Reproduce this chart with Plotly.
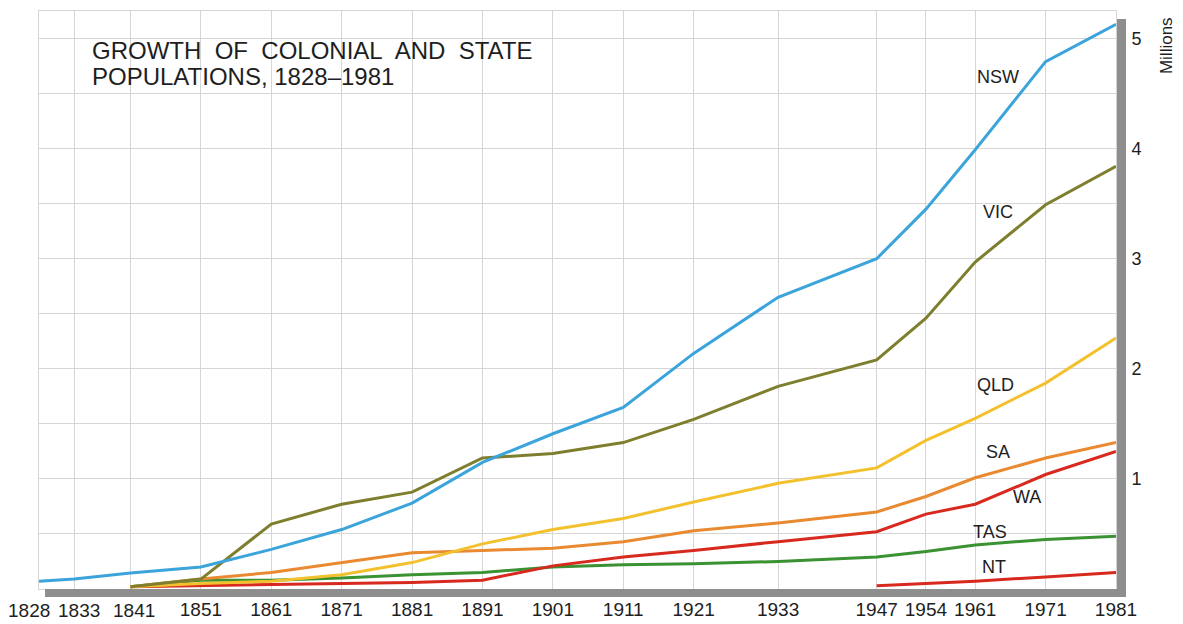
import plotly.graph_objects as go

# ---- data (millions) ----
tick_years = [1828, 1833, 1841, 1851, 1861, 1871, 1881, 1891, 1901, 1911,
              1921, 1933, 1947, 1954, 1961, 1971, 1981]
tick_labels = [str(y) for y in tick_years]

nsw_years = [1828, 1833, 1841, 1851, 1861, 1871, 1881, 1891, 1901, 1911,
             1921, 1933, 1947, 1954, 1961, 1971, 1981]
nsw = [0.07, 0.09, 0.145, 0.20, 0.36, 0.54, 0.78, 1.15, 1.41, 1.65,
       2.14, 2.65, 3.00, 3.45, 3.99, 4.79, 5.13]

state_years = [1841, 1851, 1861, 1871, 1881, 1891, 1901, 1911,
               1921, 1933, 1947, 1954, 1961, 1971, 1981]
vic = [0.02, 0.09, 0.59, 0.77, 0.88, 1.19, 1.23, 1.33, 1.54, 1.84, 2.08, 2.46, 2.97, 3.49, 3.84]
qld = [0.02, 0.05, 0.07, 0.13, 0.24, 0.41, 0.54, 0.64, 0.79, 0.96, 1.10, 1.35, 1.55, 1.87, 2.28]
sa = [0.02, 0.09, 0.15, 0.24, 0.33, 0.35, 0.37, 0.43, 0.53, 0.60, 0.70, 0.84, 1.01, 1.19, 1.33]
wa = [0.02, 0.03, 0.045, 0.05, 0.06, 0.08, 0.21, 0.29, 0.35, 0.43, 0.52, 0.68, 0.77, 1.04, 1.25]
tas = [0.02, 0.08, 0.08, 0.10, 0.13, 0.15, 0.20, 0.22, 0.23, 0.25, 0.29, 0.34, 0.40, 0.45, 0.48]

nt_years = [1947, 1954, 1961, 1971, 1981]
nt = [0.03, 0.05, 0.07, 0.11, 0.15]

y_tick_vals = [0.5, 1, 1.5, 2, 2.5, 3, 3.5, 4, 4.5, 5]
y_tick_text = ["", "1", "", "2", "", "3", "", "4", "", "5"]

series = [
    ("NT", nt_years, nt, "#d8291f"),
    ("TAS", state_years, tas, "#3a9232"),
    ("WA", state_years, wa, "#d8291f"),
    ("SA", state_years, sa, "#e98a30"),
    ("QLD", state_years, qld, "#f4c12e"),
    ("VIC", state_years, vic, "#7e7f2e"),
    ("NSW", nsw_years, nsw, "#3ba4db"),
]

# label positions (year, millions)
label_pos = {
    "NSW": (1964.2, 4.65), "VIC": (1964.2, 3.42), "QLD": (1963.9, 1.85),
    "SA": (1964.2, 1.245), "WA": (1968.3, 0.836), "TAS": (1963.1, 0.52),
    "NT": (1963.6, 0.20),
}

# the first three year labels are nudged sideways (px) to make room
label_nudge = {0: -10, 1: 5, 2: 3}

FONT = "Liberation Sans, Arial, Helvetica, sans-serif"
TXT = "#1e1e1e"

fig = go.Figure()
for name, xs, ys, col in series:
    fig.add_trace(go.Scatter(x=xs, y=ys, mode="lines", name=name,
                             line=dict(color=col, width=3)))

for name, (lx, ly) in label_pos.items():
    fig.add_annotation(x=lx, y=ly, text=name, showarrow=False,
                       font=dict(family=FONT, size=18, color=TXT),
                       xanchor="center", yanchor="middle")

# title
fig.add_annotation(xref="paper", yref="paper", x=0.0474, y=0.9325,
                   text="GROWTH\u00a0 OF\u00a0 COLONIAL\u00a0 AND\u00a0 STATE",
                   showarrow=False, xanchor="left", yanchor="middle",
                   font=dict(family=FONT, size=24, color=TXT))
fig.add_annotation(xref="paper", yref="paper", x=0.0474, y=0.8875,
                   text="POPULATIONS, 1828\u20131981",
                   showarrow=False, xanchor="left", yanchor="middle",
                   font=dict(family=FONT, size=24, color=TXT))
# Millions
fig.add_annotation(xref="paper", yref="paper", x=1.0464, y=0.941,
                   text="Millions", textangle=-90, showarrow=False,
                   xanchor="center", yanchor="middle",
                   font=dict(family=FONT, size=17, color=TXT))

# x tick labels: nudged ones drawn as annotations, the rest as tick text
axis_text = list(tick_labels)
for i, dx in label_nudge.items():
    axis_text[i] = ""
    fig.add_annotation(xref="x", yref="paper", x=tick_years[i], y=-0.037,
                       xshift=dx, text=tick_labels[i], showarrow=False,
                       xanchor="center", yanchor="middle",
                       font=dict(family=FONT, size=19, color=TXT))

# shadow
shadow = "#8e8e8e"
fig.add_shape(type="rect", xref="paper", yref="paper",
              x0=1.0009, x1=1.0093, y0=-0.0138, y1=0.986,
              fillcolor=shadow, line=dict(width=0))
fig.add_shape(type="rect", xref="paper", yref="paper",
              x0=0.0056, x1=1.0093, y0=-0.0138, y1=0.0,
              fillcolor=shadow, line=dict(width=0))

grid = "#d6d6d6"
fig.update_layout(
    width=1183, height=624,
    margin=dict(l=31, r=75, t=3, b=43),
    paper_bgcolor="white", plot_bgcolor="white",
    showlegend=False,
    font=dict(family=FONT, color=TXT),
    xaxis=dict(range=[1828, 1981], tickmode="array", tickvals=tick_years,
               ticktext=axis_text, showgrid=True, gridcolor=grid, gridwidth=1,
               zeroline=False, showline=True, mirror=True, linecolor=grid,
               ticks="outside", ticklen=3, tickcolor="rgba(0,0,0,0)",
               tickfont=dict(family=FONT, size=19, color=TXT)),
    yaxis=dict(range=[0, 5.25], side="right", tickmode="array",
               tickvals=y_tick_vals, ticktext=y_tick_text,
               showgrid=True, gridcolor=grid, gridwidth=1, zeroline=False,
               showline=True, mirror=True, linecolor=grid,
               ticks="outside", ticklen=11, tickcolor="rgba(0,0,0,0)",
               tickfont=dict(family=FONT, size=18, color=TXT)),
)

fig.write_html("out.html")
